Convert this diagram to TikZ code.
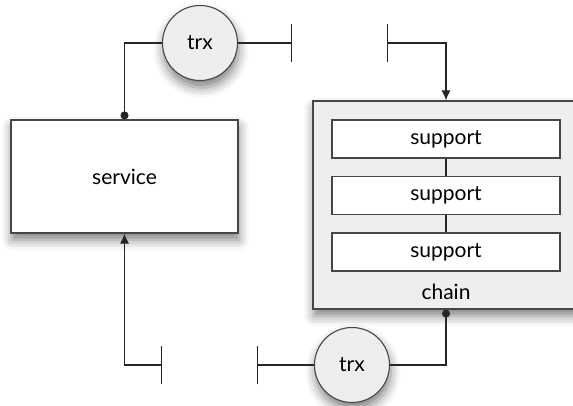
\documentclass[tikz,border=0pt]{standalone}
\usepackage{fontspec}
\setmainfont{Lato}
\usepackage{tikz}
\usetikzlibrary{arrows.meta,positioning}
\usetikzlibrary{shadows.blur}

\definecolor{boxgray}{RGB}{238,238,238}
\definecolor{edgegray}{RGB}{70,70,70}

\tikzset{
	shade/.style={blur shadow={shadow xshift=1pt, shadow yshift=-7pt, shadow blur radius=10pt, shadow opacity=50}},
	unit/.style={draw=edgegray, line width=1.2pt, fill=white, minimum width=227pt, minimum height=113pt, shade},
	trxnode/.style={circle, draw=edgegray, line width=1.1pt, fill=boxgray, minimum size=75pt, inner sep=0pt, shade},
	chainbox/.style={draw=edgegray, line width=1.2pt, fill=boxgray, minimum width=266pt, minimum height=208pt, shade},
	suppbox/.style={draw=edgegray, line width=1.1pt, fill=white, minimum width=228pt, minimum height=38pt, inner sep=0pt},
	wire/.style={line width=1.1pt, color=black!85},
	endbar/.tip={Bar[width=38pt]},
	enddot/.tip={Circle[length=8pt]},
	endarrow/.tip={Latex[length=10pt,width=9pt]}
}

\begin{document}
\begin{tikzpicture}[x=1pt, y=-1pt, font=\fontsize{21}{24}\selectfont]
		\useasboundingbox (0,0) rectangle (573,405);
		
		% left block and the long block with its parts
		\node[unit] (service) at (124.5,176.5) {service};
		\node[chainbox] (chain) at (446,205) {};
		\node[suppbox] (supp1) at (446,139) {support};
		\node[suppbox] (supp2) at (446,195.5) {support};
		\node[suppbox] (supp3) at (446,252) {support};
		\node (chainlbl) at (446,292) {chain};
		
		\draw[wire] (supp1.south) -- (supp2.north);
		\draw[wire] (supp2.south) -- (supp3.north);
		
		% transceivers
		\node[trxnode] (trxtop) at (200,43) {trx};
		\node[trxnode] (trxbot) at (352,365) {trx};
		
		\coordinate (gapA) at (292,43);
		\coordinate (gapB) at (387,43);
		\coordinate (gapC) at (162,365);
		\coordinate (gapD) at (257,365);
		
		% upper path
		\draw[wire, enddot-] (service.north) |- (trxtop.west);
		\draw[wire, -endbar] (trxtop.east) -- (gapA);
		\draw[wire, endbar-endarrow] (gapB) -| (chain.north);
		
		% lower path
		\draw[wire, endbar-endarrow] (gapC) -| (service.south);
		\draw[wire, endbar-] (gapD) -- (trxbot.west);
		\draw[wire, -enddot] (trxbot.east) -| (chain.south);
		
\end{tikzpicture}
\end{document}
